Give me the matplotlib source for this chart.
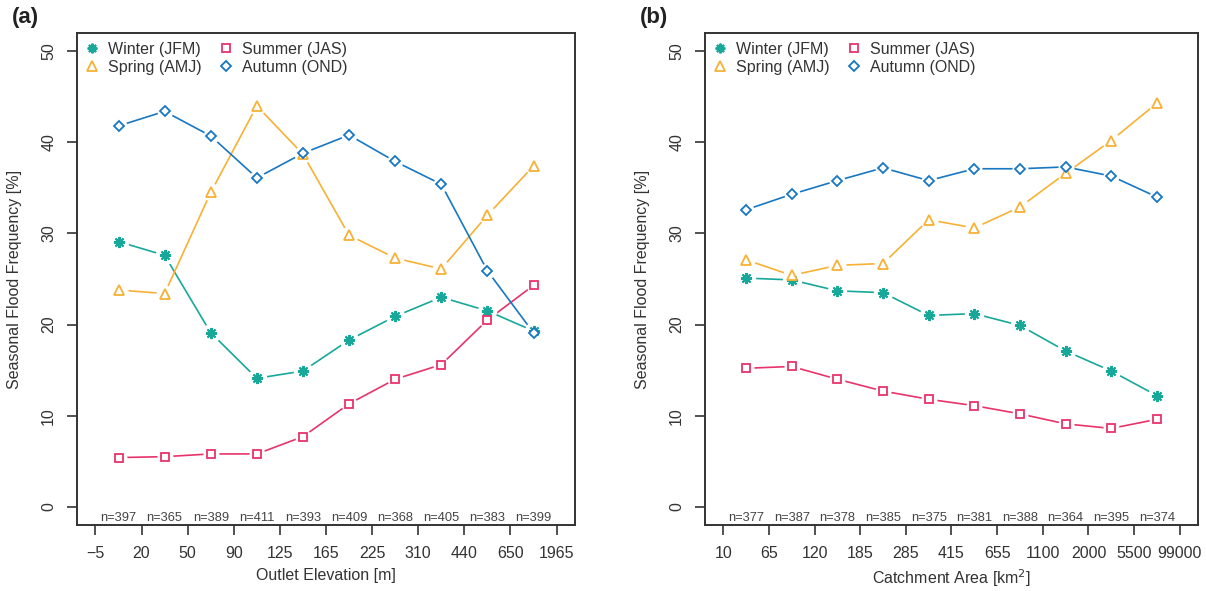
import matplotlib
matplotlib.use("Agg")
import matplotlib.pyplot as plt
from matplotlib.lines import Line2D
import numpy as np

plt.rcParams['font.family'] = ['Liberation Sans', 'DejaVu Sans']

# ---------------- data ----------------
elev_ticks = ["\u22125", "20", "50", "90", "125", "165", "225", "310", "440", "650", "1965"]
elev_n = [397, 365, 389, 411, 393, 409, 368, 405, 383, 399]
elev_winter = [29.1, 27.6, 19.1, 14.1, 14.9, 18.3, 20.9, 23.0, 21.5, 19.3]
elev_spring = [23.8, 23.4, 34.5, 44.0, 38.7, 29.8, 27.3, 26.1, 32.0, 37.4]
elev_summer = [5.4, 5.5, 5.8, 5.8, 7.7, 11.3, 14.0, 15.6, 20.5, 24.3]
elev_autumn = [41.8, 43.4, 40.7, 36.1, 38.8, 40.8, 37.9, 35.4, 25.9, 19.1]

area_ticks = ["10", "65", "120", "185", "285", "415", "655", "1100", "2000", "5500", "99000"]
area_n = [377, 387, 378, 385, 375, 381, 388, 364, 395, 374]
area_winter = [25.1, 24.9, 23.7, 23.5, 21.0, 21.2, 19.9, 17.1, 14.9, 12.2]
area_spring = [27.1, 25.4, 26.5, 26.7, 31.5, 30.6, 32.9, 36.6, 40.2, 44.3]
area_summer = [15.2, 15.4, 14.0, 12.7, 11.8, 11.1, 10.2, 9.1, 8.6, 9.6]
area_autumn = [32.6, 34.3, 35.8, 37.2, 35.8, 37.1, 37.1, 37.3, 36.3, 34.0]

season_labels = ["Winter (JFM)", "Spring (AMJ)", "Summer (JAS)", "Autumn (OND)"]
colors = ["#17A89A", "#F7B135", "#E8336B", "#1777C2"]
markers = [(8, 2, 0), "^", "s", "D"]
msizes = [8.0, 7.0, 5.5, 5.5]

TXT = "#333333"

fig = plt.figure(figsize=(12.06, 5.91), dpi=100)
axA = fig.add_axes([77 / 1206, 1 - 525 / 591, (575 - 77) / 1206, (525 - 33) / 591])
axB = fig.add_axes([705 / 1206, 1 - 525 / 591, (1198 - 705) / 1206, (525 - 33) / 591])


def draw(ax, ticks, ns, series, xlabel, panel):
    nb = len(ns)
    xc = np.arange(nb) + 0.5
    for vals, c, m, ms in zip(series, colors, markers, msizes):
        ax.plot(xc, vals, color=c, lw=1.2, zorder=2)
        # white halo to mimic gaps between lines and points
        ax.plot(xc, vals, linestyle="none", marker="o", ms=ms + 5,
                mfc="white", mec="white", zorder=3)
        if m == (8, 2, 0):
            ax.plot(xc, vals, linestyle="none", marker=m, ms=ms,
                    mec=c, mew=1.5, zorder=4)
        else:
            ax.plot(xc, vals, linestyle="none", marker=m, ms=ms,
                    mfc="white", mec=c, mew=1.3, zorder=4)
    for x, n in zip(xc, ns):
        ax.text(x, -1.2, f"n={n}", ha="center", va="center",
                fontsize=9.3, color="#444444")
    ax.set_xlim(-0.4, nb + 0.4)
    ax.set_ylim(-2, 52)
    ax.set_xticks(np.arange(nb + 1))
    ax.set_xticklabels(ticks)
    ax.set_yticks(np.arange(0, 51, 10))
    ax.set_yticklabels([str(v) for v in range(0, 51, 10)], rotation=90, va="center")
    ax.tick_params(axis="both", direction="out", length=7, width=1.2,
                   colors="#333333", labelsize=11.5, labelcolor=TXT)
    ax.tick_params(axis="x", pad=8)
    ax.tick_params(axis="y", pad=8)
    for s in ax.spines.values():
        s.set_color("#333333")
        s.set_linewidth(1.4)
    ax.set_xlabel(xlabel, fontsize=11.5, color=TXT, labelpad=5)
    ax.set_ylabel("Seasonal Flood Frequency [%]", fontsize=11.5, color=TXT, labelpad=14)
    handles = []
    for c, m, ms, lab in zip(colors, markers, msizes, season_labels):
        if m == (8, 2, 0):
            h = Line2D([], [], linestyle="none", marker=m, ms=ms - 1, mec=c, mew=1.5, label=lab)
        else:
            h = Line2D([], [], linestyle="none", marker=m, ms=ms, mfc="white", mec=c, mew=1.3, label=lab)
        handles.append(h)
    leg = ax.legend(handles=handles, ncol=2, loc="upper left", frameon=False,
                    fontsize=11.5, handlelength=0.8, handletextpad=0.6,
                    columnspacing=1.1, labelspacing=0.2,
                    bbox_to_anchor=(0.0, 1.0), borderaxespad=0.15)
    for t in leg.get_texts():
        t.set_color(TXT)
    fig.text(ax.get_position().x0 - 65 / 1206, 1 - 18 / 591, panel,
             fontsize=16, fontweight="bold", color="#222222", ha="left", va="center")


draw(axA, elev_ticks, elev_n, [elev_winter, elev_spring, elev_summer, elev_autumn],
     "Outlet Elevation [m]", "(a)")
draw(axB, area_ticks, area_n, [area_winter, area_spring, area_summer, area_autumn],
     "Catchment Area [km$^2$]", "(b)")

fig.savefig("out.png", dpi=100)
